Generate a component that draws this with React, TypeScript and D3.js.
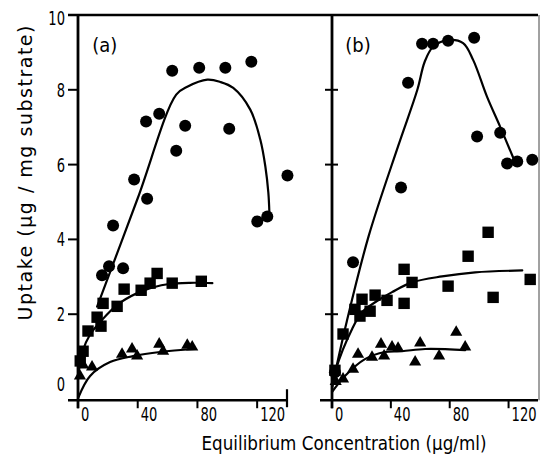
import React from "react";
import * as d3 from "d3";

// ---------- data (x: equilibrium concentration µg/ml, y: uptake µg/mg) ----------
const aCircles: [number, number][] = [
  [16.1, 3.04], [20.8, 3.28], [30.2, 3.23], [23.5, 4.37], [37.6, 5.6], [46.3, 5.09],
  [45.6, 7.15], [54.4, 7.36], [65.8, 6.37], [63.1, 8.51], [71.8, 7.04], [81.2, 8.59],
  [98.7, 8.59], [101.3, 6.96], [116.1, 8.75], [120.1, 4.48], [126.8, 4.61], [140.3, 5.71],
];
const aSquares: [number, number][] = [
  [1.5, 0.75], [3.4, 1.01], [6.7, 1.55], [12.8, 1.92], [15.4, 1.68], [16.8, 2.29],
  [26.2, 2.21], [30.9, 2.67], [42.3, 2.64], [48.3, 2.83], [53.0, 3.09], [63.1, 2.83], [82.6, 2.88],
];
const aTriangles: [number, number][] = [
  [1.3, 0.35], [3.4, 0.64], [9.4, 0.59], [29.5, 0.93], [36.2, 1.07], [39.6, 0.88],
  [54.4, 1.2], [57.0, 1.01], [73.2, 1.17], [76.5, 1.12],
];
const aCircleFit: [number, number][] = [
  [12.8, 2.2], [40, 5.1], [65.8, 7.87], [73.2, 8.08], [86.6, 8.27], [95.3, 8.21],
  [104.0, 8.05], [115.4, 7.47], [122.1, 6.67], [125.5, 5.95], [127.5, 5.25], [128.2, 4.72],
];
const aSquareFit: [number, number][] = [
  [0, 0.3], [3, 1.0], [8, 1.45], [15, 1.8], [28, 2.3], [45, 2.65], [60, 2.8], [75, 2.84], [90, 2.83],
];
const aTriangleFit: [number, number][] = [
  [0, -0.25], [8.1, 0.35], [21.5, 0.72], [36.9, 0.88], [55, 0.99], [78.5, 1.07],
];

const bCircles: [number, number][] = [
  [2, 0.45], [14.3, 3.39], [46.9, 5.39], [51.7, 8.19], [61.2, 9.23], [68.7, 9.23], [78.9, 9.31],
  [96.6, 9.39], [98.6, 6.75], [114.3, 6.85], [119.0, 6.03], [125.9, 6.08], [136.1, 6.13],
];
const bSquares: [number, number][] = [
  [2, 0.5], [7.5, 1.47], [15.6, 2.13], [20.4, 2.4], [19.0, 1.95], [25.9, 2.08], [29.3, 2.51],
  [37.4, 2.37], [49.0, 3.2], [54.4, 2.85], [49.0, 2.29], [78.9, 2.75], [92.5, 3.55],
  [106.1, 4.19], [109.5, 2.45], [134.7, 2.93],
];
const bTriangles: [number, number][] = [
  [2.5, 0.2], [7.5, 0.27], [14.3, 0.53], [17.7, 0.93], [27.2, 0.85], [33.3, 1.2], [35.4, 0.88],
  [40.8, 1.12], [44.9, 1.09], [56.5, 0.72], [59.9, 1.23], [72.8, 0.88], [84.4, 1.52], [90.5, 1.12],
];
const bCircleFit: [number, number][] = [
  [0, 0.05], [10, 1.8], [25, 4.1], [45, 6.5], [58, 8.0], [63, 8.75], [68.7, 9.15],
  [78.9, 9.33], [89.1, 9.25], [95.9, 8.8], [105.4, 7.81], [114.3, 7.01], [123.1, 6.19],
];
const bSquareFit: [number, number][] = [
  [0, 0], [2.7, 0.53], [13.6, 1.6], [20.4, 2.05], [29.3, 2.32], [40.8, 2.59], [54.4, 2.85],
  [74.8, 3.01], [97.3, 3.12], [129.3, 3.17],
];
const bTriangleFit: [number, number][] = [
  [0, -0.08], [8.8, 0.35], [22.4, 0.8], [36, 0.99], [47.6, 1.01], [63.3, 1.07], [90.5, 1.04],
];

const xTicks = [0, 40, 80, 120];
const yTicks = [0, 2, 4, 6, 8, 10];
const yInnerTicks = [2, 4, 6, 8];
const panelLabels = ["(a)", "(b)"];
const xTitle = "Equilibrium Concentration (\u00b5g/ml)";
const yTitle = "Uptake (\u00b5g / mg substrate)";

// ---------- layout ----------
const W = 540, H = 464;
const y = d3.scaleLinear().domain([0, 10]).range([389, 15]);
const xA = d3.scaleLinear().domain([0, 140]).range([78, 287]);
const xB = d3.scaleLinear().domain([0, 140]).range([332, 538]);
const axisY = y(-0.3);
const FONT = "'DejaVu Sans', sans-serif";
const NARROW = 0.69; // horizontal squeeze for the condensed lettering

const triPath = d3.symbol(d3.symbolTriangle, 64)() as string;

function Narrow({ x, yy, anchor = "start", size = 19, squeeze = NARROW, children }: any) {
  return (
    <text
      transform={`translate(${x},${yy}) scale(${squeeze},1)`}
      fontSize={size}
      fontFamily={FONT}
      textAnchor={anchor}
      fill="#000"
    >
      {children}
    </text>
  );
}

function Panel({ x, circles, squares, triangles, fits }: any) {
  const line = d3
    .line<[number, number]>()
    .x((d) => x(d[0]))
    .y((d) => y(d[1]))
    .curve(d3.curveCatmullRom.alpha(0.5));
  return (
    <g>
      {fits.map((f: [number, number][], i: number) => (
        <path key={i} d={line(f) as string} fill="none" stroke="#000" strokeWidth={2.2} strokeLinecap="round" />
      ))}
      {circles.map((d: [number, number], i: number) => (
        <circle key={"c" + i} cx={x(d[0])} cy={y(d[1])} r={6} fill="#000" />
      ))}
      {squares.map((d: [number, number], i: number) => (
        <rect key={"s" + i} x={x(d[0]) - 5.7} y={y(d[1]) - 5.7} width={11.4} height={11.4} fill="#000" />
      ))}
      {triangles.map((d: [number, number], i: number) => (
        <path key={"t" + i} d={triPath} transform={`translate(${x(d[0])},${y(d[1])})`} fill="#000" />
      ))}
    </g>
  );
}

export default function App() {
  return (
    <svg
      width={W}
      height={H}
      viewBox={`0 0 ${W} ${H}`}
      style={{ position: "absolute", left: 0, top: 0, background: "#fff", display: "block" }}
    >
      <rect x={0} y={0} width={W} height={H} fill="#fff" />
      {/* frame */}
      <line x1={68} x2={538} y1={y(10)} y2={y(10)} stroke="#000" strokeWidth={2.5} />
      <line x1={xA(0)} x2={xA(0)} y1={y(10)} y2={axisY + 8} stroke="#000" strokeWidth={2.8} />
      <line x1={xB(0)} x2={xB(0)} y1={y(10)} y2={axisY + 8} stroke="#000" strokeWidth={2.8} />
      <line x1={539} x2={539} y1={y(10)} y2={axisY} stroke="#444" strokeWidth={1} />
      {/* x axes */}
      <line x1={68} x2={xA(140)} y1={axisY} y2={axisY} stroke="#000" strokeWidth={2.6} />
      <line x1={xA(140)} x2={xA(140)} y1={axisY - 11} y2={axisY + 7} stroke="#000" strokeWidth={2.2} />
      <line x1={320} x2={538} y1={axisY} y2={axisY} stroke="#000" strokeWidth={2.6} />
      {[xA, xB].map((sx, p) =>
        xTicks.map((t) => (
          <g key={p + "-" + t}>
            <line x1={sx(t)} x2={sx(t)} y1={axisY} y2={axisY + 8} stroke="#000" strokeWidth={2} />
            <Narrow x={sx(t) + 3} yy={axisY + 21}>
              {t}
            </Narrow>
          </g>
        ))
      )}
      {/* y ticks left */}
      {yTicks.map((t) => (
        <g key={"y" + t}>
          {t > 0 && <line x1={68} x2={xA(0)} y1={y(t)} y2={y(t)} stroke="#000" strokeWidth={2} />}
          <Narrow x={65} yy={y(t) + 7 - (t === 0 ? 5 : 0) + (t === 10 ? 3 : 0)} anchor="end">
            {t}
          </Narrow>
        </g>
      ))}
      {/* shared axis inner ticks */}
      {yInnerTicks.map((t) => (
        <line key={"yi" + t} x1={xB(0) - 7} x2={xB(0) + 6} y1={y(t)} y2={y(t)} stroke="#000" strokeWidth={2} />
      ))}
      <Panel
        x={xA}
        circles={aCircles}
        squares={aSquares}
        triangles={aTriangles}
        fits={[aCircleFit, aSquareFit, aTriangleFit]}
      />
      <Panel
        x={xB}
        circles={bCircles}
        squares={bSquares}
        triangles={bTriangles}
        fits={[bCircleFit, bSquareFit, bTriangleFit]}
      />
      <Narrow x={xA(9.5)} yy={52} size={20} squeeze={0.9}>
        {panelLabels[0]}
      </Narrow>
      <Narrow x={xB(9)} yy={52} size={20} squeeze={0.9}>
        {panelLabels[1]}
      </Narrow>
      <text
        x={344}
        y={450}
        fontSize={19}
        fontFamily={FONT}
        textAnchor="middle"
        textLength={285}
        lengthAdjust="spacingAndGlyphs"
        fill="#000"
      >
        {xTitle}
      </text>
      <text
        transform="translate(32,173) rotate(-90)"
        x={0}
        y={0}
        fontSize={19}
        fontFamily={FONT}
        textAnchor="middle"
        textLength={295}
        lengthAdjust="spacing"
        fill="#000"
      >
        {yTitle}
      </text>
    </svg>
  );
}
